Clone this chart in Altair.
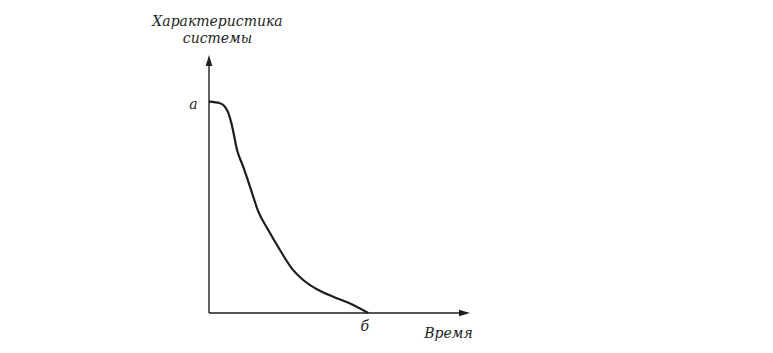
import altair as alt
import pandas as pd

# Curve (arbitrary units: time vs system characteristic)
time_vals = [0.0, 0.42, 0.70, 0.86, 1.08, 1.30, 1.57, 1.89, 2.27, 2.72, 3.17, 3.61, 4.19, 4.76, 5.53, 6.10]
char_vals = [8.19, 8.13, 7.85, 7.35, 6.30, 5.70, 4.90, 3.93, 3.22, 2.44, 1.73, 1.28, 0.89, 0.63, 0.31, 0.0]

A_VALUE = 8.19   # point "а" on the vertical axis
B_VALUE = 6.10   # point "б" on the horizontal axis
X_MAX = 10.0
Y_MAX = 10.0

y_title = ["Характеристика", "системы"]
x_title = "Время"
a_label = "а"
b_label = "б"

FONT = "DejaVu Serif"
INK = "#1e1e1e"

curve = pd.DataFrame({"t": time_vals, "v": char_vals})

xs = alt.Scale(domain=[0, X_MAX], nice=False, zero=True)
ys = alt.Scale(domain=[0, Y_MAX], nice=False, zero=True)

x_axis = alt.Axis(
    values=[B_VALUE], labelExpr=f"'{b_label}'", ticks=False, tickSize=0, domain=False, grid=False,
    labelFont=FONT, labelFontStyle="italic", labelFontSize=14, labelColor=INK,
    labelBaseline="alphabetic", labelPadding=17, labelOffset=-4,
    title=x_title, titleFont=FONT, titleFontStyle="italic", titleFontSize=14, titleFontWeight="normal",
    titleColor=INK, titleX=239, titleY=24, titleAlign="center", titleBaseline="alphabetic",
)
y_axis = alt.Axis(
    values=[A_VALUE], labelExpr=f"'{a_label}'", ticks=False, tickSize=0, domain=False, grid=False,
    labelFont=FONT, labelFontStyle="italic", labelFontSize=14, labelColor=INK,
    labelBaseline="alphabetic", labelOffset=7, labelPadding=12,
    title=y_title, titleFont=FONT, titleFontStyle="italic", titleFontSize=14, titleFontWeight="normal",
    titleColor=INK, titleAngle=0, titleX=8, titleY=-30, titleAlign="center", titleBaseline="alphabetic",
    titleLineHeight=17,
)

line = alt.Chart(curve).mark_line(color=INK, strokeWidth=2.2, interpolate="monotone").encode(
    x=alt.X("t:Q", scale=xs, axis=x_axis),
    y=alt.Y("v:Q", scale=ys, axis=y_axis),
)

axes_df = pd.DataFrame({"x1": [0.0, 0.0], "x2": [X_MAX - 0.3, 0.0], "y1": [0.0, 0.0], "y2": [0.0, Y_MAX - 0.3]})
axes_rules = alt.Chart(axes_df).mark_rule(color=INK, strokeWidth=1.4).encode(
    x=alt.X("x1:Q", scale=xs), x2="x2:Q", y=alt.Y("y1:Q", scale=ys), y2="y2:Q"
)

arrow_right = alt.Chart(pd.DataFrame({"x": [X_MAX], "y": [0.0]})).mark_point(
    shape="M0,0 L-2,-0.6 L-2,0.6 Z", filled=True, size=121, color=INK, opacity=1, strokeWidth=0
).encode(x=alt.X("x:Q", scale=xs), y=alt.Y("y:Q", scale=ys))

arrow_up = alt.Chart(pd.DataFrame({"x": [0.0], "y": [Y_MAX]})).mark_point(
    shape="M0,0 L-0.6,2 L0.6,2 Z", filled=True, size=121, color=INK, opacity=1, strokeWidth=0
).encode(x=alt.X("x:Q", scale=xs), y=alt.Y("y:Q", scale=ys))

chart = alt.layer(axes_rules, line, arrow_right, arrow_up).properties(
    width=261, height=258,
    autosize=alt.AutoSizeParams(type="none"),
    padding={"left": 209, "top": 55, "right": 303, "bottom": 40},
    background="white",
).configure_view(stroke=None)

chart.save("out.html", embed_options={"renderer": "svg", "actions": False})
